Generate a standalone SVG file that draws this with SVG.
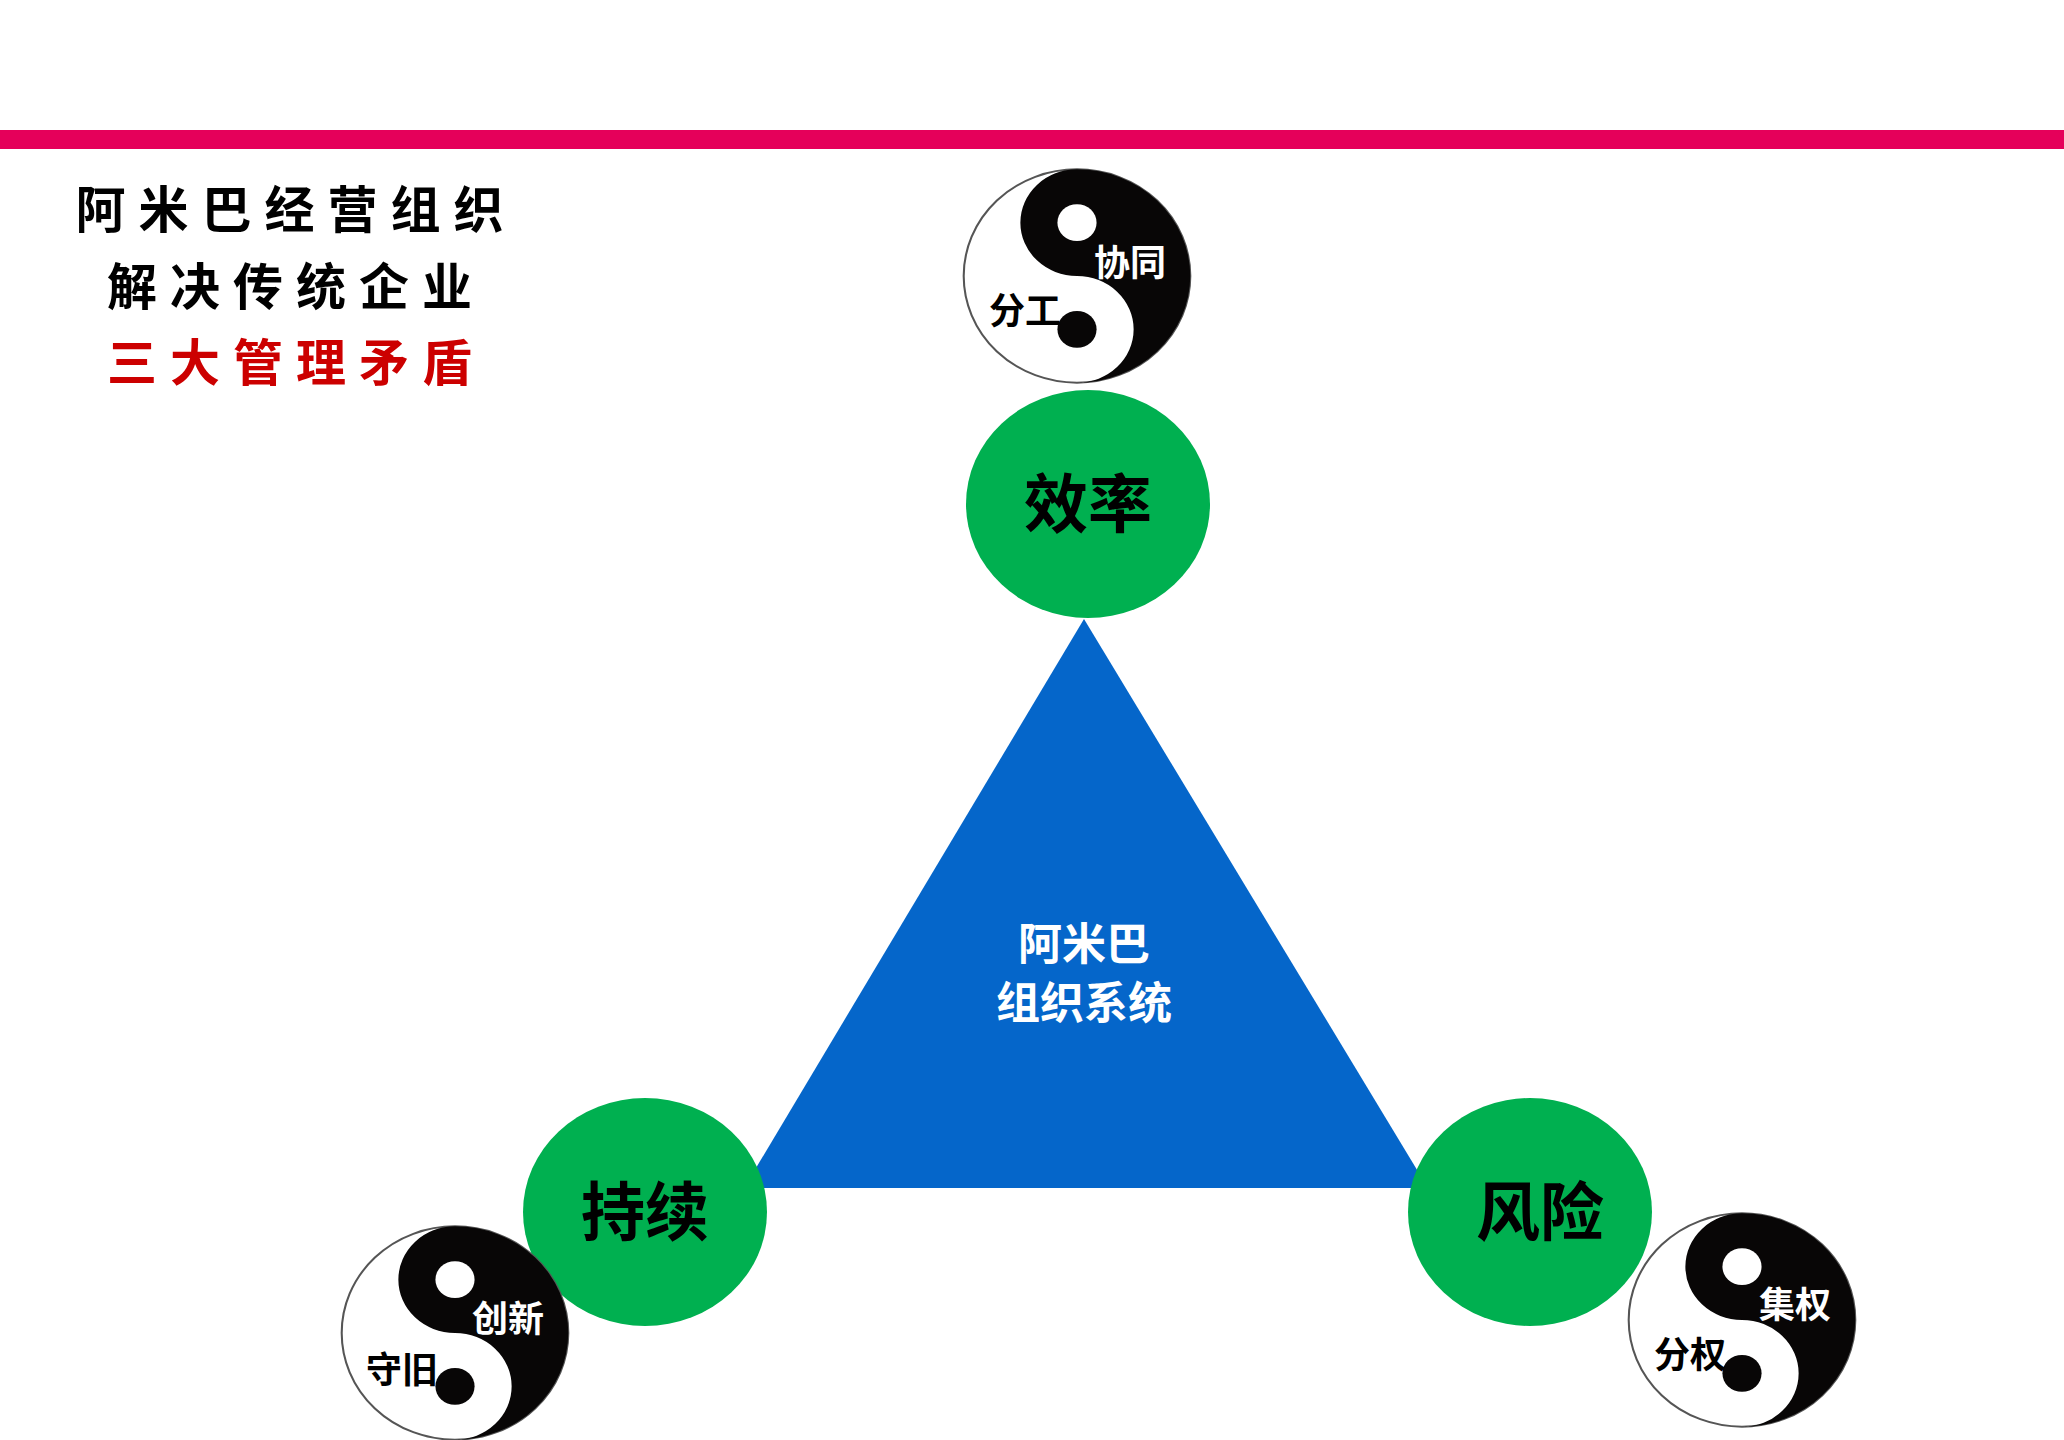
<svg xmlns="http://www.w3.org/2000/svg" width="2064" height="1440" viewBox="0 0 2064 1440">
<style>
.t{font-family:"Noto Sans CJK SC","Noto Sans",sans-serif;font-weight:bold;text-anchor:middle}
.g{fill:#00B050}
.yl{font-size:36px}
</style>
<defs>
<g id="yy">
<circle cx="0" cy="0" r="110" fill="#fff" stroke="#555" stroke-width="2"/>
<path d="M0,-110 A110,110 0 0 1 0,110 A55,55 0 0 0 0,0 A55,55 0 0 1 0,-110Z" fill="#080606"/>
<circle cx="0" cy="-55" r="19" fill="#fff"/>
<circle cx="0" cy="55" r="19" fill="#080606"/>
</g>
</defs>
<rect width="2064" height="1440" fill="#fff"/>
<rect x="0" y="130" width="2064" height="19" fill="#E5005A"/>
<g id="title" class="t" font-size="50" font-weight="900" letter-spacing="13">
<text x="296" y="228">阿米巴经营组织</text>
<text x="296" y="305">解决传统企业</text>
<text x="296" y="381" fill="#CC0000">三大管理矛盾</text>
</g>
<g id="connectors"></g>
<g id="triangle">
<polygon points="1084,619 744,1188 1428,1188" fill="#0566CA"/>
<text class="t" x="1084" y="960" font-size="44" fill="#fff">阿米巴</text>
<text class="t" x="1084" y="1019" font-size="44" fill="#fff">组织系统</text>
</g>
<g id="n-efficiency"><ellipse class="g" cx="1088" cy="504" rx="122" ry="114"/><text class="t" x="1088" y="527" font-size="64">效率</text></g>
<g id="n-sustain"><ellipse class="g" cx="645" cy="1212" rx="122" ry="114"/><text class="t" x="645" y="1235" font-size="64">持续</text></g>
<g id="n-risk"><ellipse class="g" cx="1530" cy="1212" rx="122" ry="114"/><text class="t" x="1540" y="1235" font-size="64">风险</text></g>
<g id="yy-top">
<use href="#yy" transform="translate(1077,276) scale(1.03,0.97)"/>
<text class="t yl" x="1130" y="276" fill="#fff">协同</text>
<text class="t yl" x="1025" y="324">分工</text>
</g>
<g id="yy-left">
<use href="#yy" transform="translate(455,1333) scale(1.03,0.97)"/>
<text class="t yl" x="508" y="1332" fill="#fff">创新</text>
<text class="t yl" x="402" y="1383">守旧</text>
</g>
<g id="yy-right">
<use href="#yy" transform="translate(1742,1320) scale(1.03,0.97)"/>
<text class="t yl" x="1795" y="1318" fill="#fff">集权</text>
<text class="t yl" x="1690" y="1368">分权</text>
</g>
</svg>
